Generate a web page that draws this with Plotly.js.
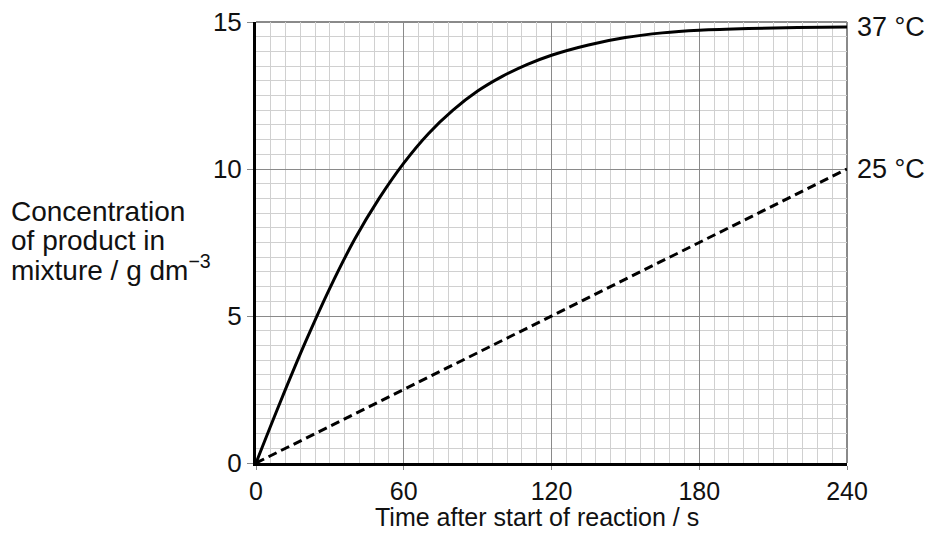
<!DOCTYPE html>
<html>
<head>
<meta charset="utf-8">
<script src="https://cdn.plot.ly/plotly-3.0.1.min.js"></script>
<style>html,body{margin:0;padding:0;background:#fff;}#chart{width:933px;height:533px;}</style>
</head>
<body>
<div id="chart"></div>
<script>
// Time after start of reaction / s
const time37 = [0, 10, 20, 30, 40, 50, 60, 70, 80, 90, 100, 110, 120, 135, 150, 165, 180, 200, 220, 240];
// Concentration of product at 37 °C / g dm-3
const conc37 = [0, 2.1, 4.1, 5.95, 7.6, 9.0, 10.2, 11.2, 12.0, 12.65, 13.15, 13.55, 13.87, 14.22, 14.47, 14.63, 14.72, 14.78, 14.81, 14.83];
const time25 = [0, 60, 120, 180, 240];
const conc25 = [0, 2.5, 5, 7.5, 10];
const seriesNames = ["37 °C", "25 °C"];
const xTicks = [0, 60, 120, 180, 240];
const yTicks = [0, 5, 10, 15];
const yTitleLines = ["Concentration", "of product in", "mixture / g dm<sup>−3</sup>"];
const xTitle = "Time after start of reaction / s";

const font = "Liberation Sans, Arial, sans-serif";

const traces = [
  {x: time37, y: conc37, mode: "lines", line: {color: "#000", width: 3, shape: "spline", smoothing: 1}, name: seriesNames[0], hoverinfo: "skip"},
  {x: time25, y: conc25, mode: "lines", line: {color: "#000", width: 3, dash: "9px,5px"}, name: seriesNames[1], hoverinfo: "skip"}
];

const yTitleAnn = yTitleLines.map((t, i) => ({
  x: -0.418, y: 8.54 - i * 0.955, xref: "paper", yref: "y", text: t, showarrow: false,
  xanchor: "left", yanchor: "middle", align: "left", font: {size: 28, family: font, color: "#111"}
}));

const layout = {
  width: 933, height: 533,
  margin: {l: 256, r: 86, t: 22, b: 70},
  paper_bgcolor: "#fff", plot_bgcolor: "#fff",
  showlegend: false,
  font: {family: font, color: "#111", size: 25},
  xaxis: {
    range: [0, 240], tickvals: xTicks, ticktext: xTicks.map(String),
    showgrid: true, gridcolor: "#8a8a8a", gridwidth: 1,
    minor: {dtick: 6, tick0: 0, showgrid: true, gridcolor: "#d0d0d0", gridwidth: 1},
    showline: true, linecolor: "#000", linewidth: 3,
    zeroline: false, ticks: "outside", ticklen: 4, tickcolor: "#888", tickwidth: 1,
    tickfont: {size: 25, family: font, color: "#111"}, fixedrange: true
  },
  yaxis: {
    range: [0, 15], tickvals: yTicks, ticktext: yTicks.map(String),
    showgrid: true, gridcolor: "#8a8a8a", gridwidth: 1,
    minor: {dtick: 0.5, tick0: 0, showgrid: true, gridcolor: "#d0d0d0", gridwidth: 1},
    showline: true, linecolor: "#000", linewidth: 3,
    zeroline: false, ticks: "outside", ticklen: 6, tickcolor: "#888", tickwidth: 1,
    tickfont: {size: 26, family: font, color: "#111"}, fixedrange: true
  },
  shapes: [
    {type: "line", xref: "paper", yref: "paper", x0: 0, x1: 1, y0: 1, y1: 1, line: {color: "#8a8a8a", width: 2}, layer: "below"},
    {type: "line", xref: "paper", yref: "paper", x0: 1, x1: 1, y0: 0, y1: 1, line: {color: "#8a8a8a", width: 2}, layer: "below"}
  ],
  annotations: [
    {x: 240, y: conc37[conc37.length - 1], xref: "x", yref: "y", text: seriesNames[0], showarrow: false, xanchor: "left", yanchor: "middle", xshift: 8, font: {size: 27, family: font, color: "#111"}},
    {x: 240, y: conc25[conc25.length - 1], xref: "x", yref: "y", text: seriesNames[1], showarrow: false, xanchor: "left", yanchor: "middle", xshift: 8, font: {size: 27, family: font, color: "#111"}},
    ...yTitleAnn,
    {x: 0.4755, y: -0.1224, xref: "paper", yref: "paper", text: xTitle, showarrow: false, xanchor: "center", yanchor: "middle", font: {size: 25, family: font, color: "#111"}}
  ]
};

Plotly.newPlot("chart", traces, layout, {staticPlot: true, displayModeBar: false});
</script>
</body>
</html>
